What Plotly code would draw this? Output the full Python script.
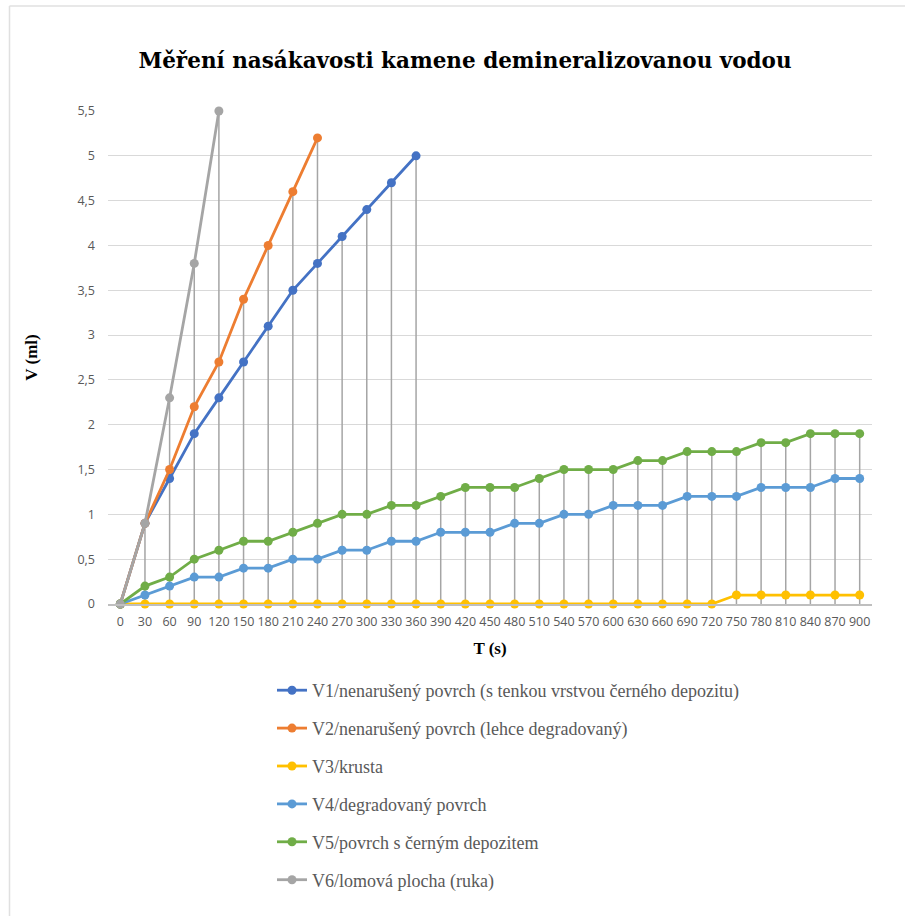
import plotly.graph_objects as go

# ---- data ----
times = [str(t) for t in range(0, 901, 30)]
v1 = [0, 0.9, 1.4, 1.9, 2.3, 2.7, 3.1, 3.5, 3.8, 4.1, 4.4, 4.7, 5.0]
v2 = [0, 0.9, 1.5, 2.2, 2.7, 3.4, 4.0, 4.6, 5.2]
v3 = [0] * 25 + [0.1] * 6
v4 = [0, 0.1, 0.2, 0.3, 0.3, 0.4, 0.4, 0.5, 0.5, 0.6, 0.6, 0.7, 0.7, 0.8, 0.8, 0.8,
      0.9, 0.9, 1.0, 1.0, 1.1, 1.1, 1.1, 1.2, 1.2, 1.2, 1.3, 1.3, 1.3, 1.4, 1.4]
v5 = [0, 0.2, 0.3, 0.5, 0.6, 0.7, 0.7, 0.8, 0.9, 1.0, 1.0, 1.1, 1.1, 1.2, 1.3, 1.3,
      1.3, 1.4, 1.5, 1.5, 1.5, 1.6, 1.6, 1.7, 1.7, 1.7, 1.8, 1.8, 1.9, 1.9, 1.9]
v6 = [0, 0.9, 2.3, 3.8, 5.5]

names = [
    "V1/nenarušený povrch (s tenkou vrstvou černého depozitu)",
    "V2/nenarušený povrch (lehce degradovaný)",
    "V3/krusta",
    "V4/degradovaný povrch",
    "V5/povrch s černým depozitem",
    "V6/lomová plocha (ruka)",
]
series = [v1, v2, v3, v4, v5, v6]
colors = ["#4472C4", "#ED7D31", "#FFC000", "#5B9BD5", "#70AD47", "#A5A5A5"]

title = "Měření nasákavosti kamene demineralizovanou vodou"
yticks = [i * 0.5 for i in range(12)]

# ---- layout geometry ----
W, H = 905, 916
L, R, T, B = 108, 33, 111, 312
pw, ph = W - L - R, H - T - B

fig = go.Figure()

# drop lines (from axis up to the highest value at each category)
dx, dy = [], []
for i, t in enumerate(times):
    vals = [s[i] for s in series if i < len(s)]
    m = max(vals)
    dx += [t, t, None]
    dy += [0, m, None]
fig.add_trace(go.Scatter(x=dx, y=dy, mode="lines", line=dict(color="#A5A5A5", width=1.5),
                         showlegend=False, hoverinfo="skip", cliponaxis=False))

for i, (name, s, c) in enumerate(zip(names, series, colors)):
    fig.add_trace(go.Scatter(
        x=times[:len(s)], y=s, mode="lines+markers", name=name,
        line=dict(color=c, width=2.8), marker=dict(color=c, size=9),
        legendgroup=f"g{i}", cliponaxis=False,
    ))

def px_x(p):
    return (p - L) / pw

def px_y(p):
    return (H - B - p) / ph

shapes = [
    dict(type="line", xref="paper", yref="paper", x0=px_x(9.5), x1=px_x(905), y0=px_y(6), y1=px_y(6),
         line=dict(color="#E0E0E0", width=1.5)),
    dict(type="line", xref="paper", yref="paper", x0=px_x(9.5), x1=px_x(9.5), y0=px_y(6), y1=px_y(916),
         line=dict(color="#E0E0E0", width=1.5)),
]

fig.update_layout(
    width=W, height=H,
    margin=dict(l=L, r=R, t=T, b=B),
    paper_bgcolor="white", plot_bgcolor="white",
    separators=", ",
    title=dict(text=f"<b>{title}</b>", x=465 / W, xanchor="center", y=1 - 60 / H, yanchor="middle",
               font=dict(family="DejaVu Serif", size=21.5, color="#000000")),
    xaxis=dict(type="category", range=[-0.5, len(times) - 0.5], showgrid=False,
               showline=True, linecolor="#BFBFBF", linewidth=1.5, ticks="", ticklabelstandoff=5,
               tickfont=dict(family="Open Sans", size=12.5, color="#595959"),
               title=dict(text="<b>T (s)</b>", standoff=13,
                          font=dict(family="Liberation Serif", size=17, color="#000000")),
               zeroline=False),
    yaxis=dict(range=[0, 5.5], tickvals=yticks, showgrid=True, gridcolor="#D9D9D9", gridwidth=1,
               zeroline=False, showline=False, ticks="", ticklabelstandoff=12,
               tickfont=dict(family="Open Sans", size=12.5, color="#595959"),
               title=dict(text="<b>V (ml)</b>", standoff=35,
                          font=dict(family="Liberation Serif", size=17, color="#000000"))),
    legend=dict(x=px_x(272), y=px_y(672), xanchor="left", yanchor="top",
                font=dict(family="Liberation Serif", size=18, color="#595959"),
                tracegroupgap=11.5, itemwidth=30, bgcolor="rgba(0,0,0,0)"),
    shapes=shapes,
    showlegend=True,
)

fig.write_html("out.html")
